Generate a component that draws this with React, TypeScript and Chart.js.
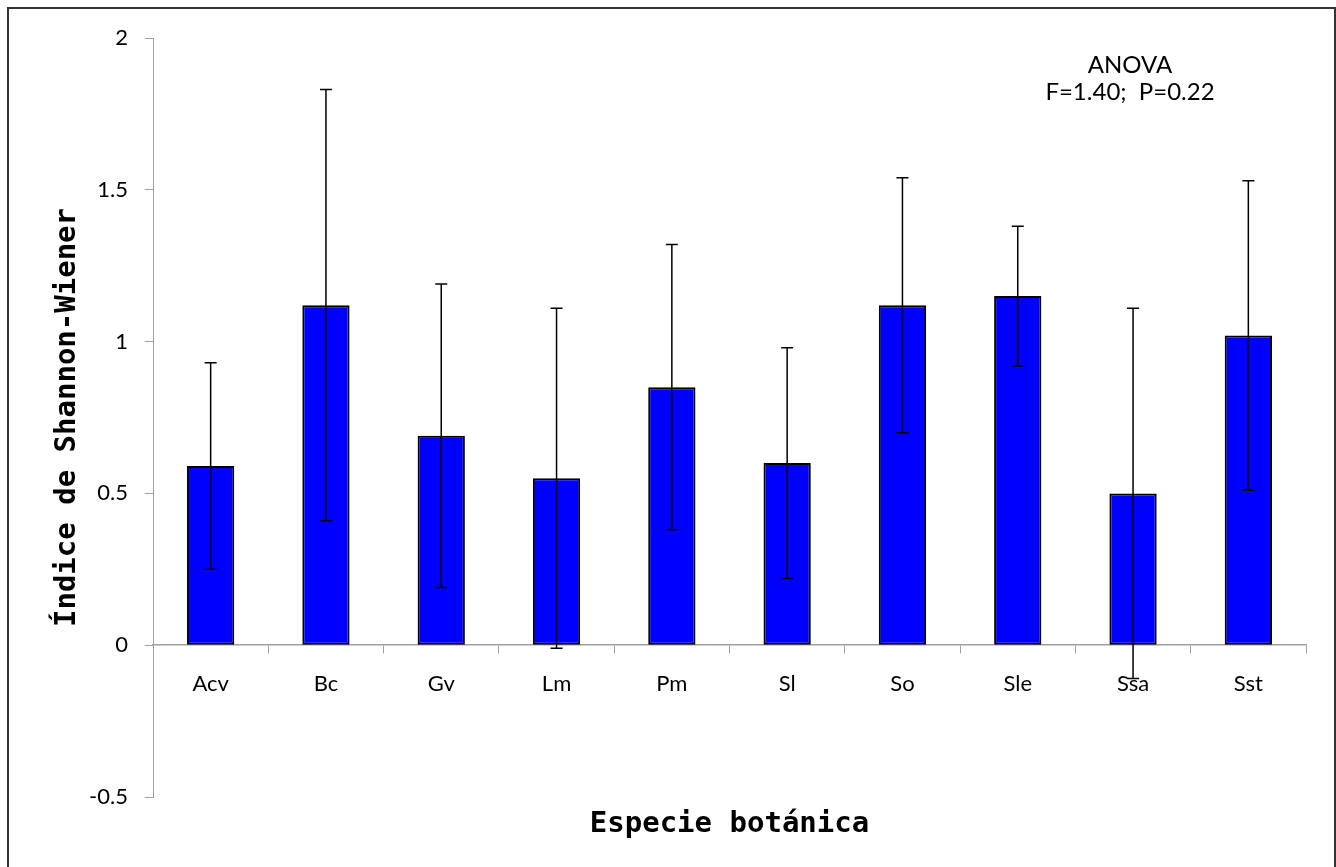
import React, { useEffect, useRef } from "react";
import { Chart, registerables } from "chart.js";

Chart.register(...registerables);

const categories = ["Acv", "Bc", "Gv", "Lm", "Pm", "Sl", "So", "Sle", "Ssa", "Sst"];
const means = [0.59, 1.12, 0.69, 0.55, 0.85, 0.6, 1.12, 1.15, 0.5, 1.02];
const errors = [0.34, 0.71, 0.5, 0.56, 0.47, 0.38, 0.42, 0.23, 0.61, 0.51];
const yTicks = [-0.5, 0, 0.5, 1, 1.5, 2];
const yTitle = "Índice de Shannon-Wiener";
const xTitle = "Especie botánica";
const anovaLines = ["ANOVA", "F=1.40;  P=0.22"];

const AXIS_GRAY = "#a0a0a0";

const decorPlugin = {
  id: "decor",
  beforeDraw(chart: any) {
    const ctx = chart.ctx;
    ctx.save();
    ctx.fillStyle = "#ffffff";
    ctx.fillRect(0, 0, chart.width, chart.height);
    ctx.fillStyle = "#333333";
    ctx.fillRect(7, 7, chart.width - 7, 2);
    ctx.fillRect(7, 7, 2, chart.height);
    ctx.fillRect(chart.width - 2, 7, 2, chart.height);
    ctx.restore();
  },
  afterDraw(chart: any) {
    const ctx = chart.ctx;
    const ys = chart.scales.y;
    const meta = chart.getDatasetMeta(0);
    ctx.save();
    ctx.strokeStyle = "#000000";
    ctx.lineWidth = 1.5;
    meta.data.forEach((el: any, i: number) => {
      const x = el.x;
      const top = ys.getPixelForValue(means[i] + errors[i]);
      const bot = ys.getPixelForValue(means[i] - errors[i]);
      ctx.beginPath();
      ctx.moveTo(x, top);
      ctx.lineTo(x, bot);
      ctx.moveTo(x - 6, top);
      ctx.lineTo(x + 6, top);
      ctx.moveTo(x - 6, bot);
      ctx.lineTo(x + 6, bot);
      ctx.stroke();
    });

    const ca = chart.chartArea;
    ctx.fillStyle = "#000000";
    ctx.font = 'bold 29px "DejaVu Sans Mono"';
    ctx.textAlign = "center";
    ctx.textBaseline = "alphabetic";
    ctx.fillText(xTitle, (ca.left + ca.right) / 2, ca.bottom + 35);

    ctx.save();
    ctx.translate(75, (ca.top + ca.bottom) / 2);
    ctx.rotate(-Math.PI / 2);
    ctx.fillText(yTitle, 0, 0);
    ctx.restore();

    ctx.font = "24px Lato";
    ctx.fillText(anovaLines[0], 1130, 73);
    ctx.fillText(anovaLines[1], 1130, 100);
    ctx.restore();
  },
};

export default function App() {
  const canvasRef = useRef<HTMLCanvasElement | null>(null);

  useEffect(() => {
    const canvas = canvasRef.current;
    if (!canvas) return;
    const chart = new Chart(canvas, {
      type: "bar",
      data: {
        labels: categories,
        datasets: [
          {
            data: means,
            backgroundColor: "#0000ff",
            borderColor: "#000000",
            borderWidth: 2,
            borderSkipped: false,
            categoryPercentage: 1,
            barPercentage: 0.41,
          },
        ],
      },
      options: {
        responsive: false,
        animation: false,
        layout: { padding: { left: 0, top: 38, right: 30, bottom: 70 } },
        plugins: {
          legend: { display: false },
          tooltip: { enabled: false },
          title: { display: false },
        },
        scales: {
          x: {
            position: { y: 0 } as any,
            z: 1,
            offset: true,
            grid: {
              display: true,
              offset: true,
              drawOnChartArea: false,
              drawTicks: true,
              tickLength: 8,
              color: AXIS_GRAY,
              lineWidth: 1,
            },
            border: { display: true, color: AXIS_GRAY, width: 1.5 },
            ticks: {
              color: "#000000",
              font: { family: "Lato", size: 22 },
              padding: 18,
              maxRotation: 0,
              autoSkip: false,
            },
          },
          y: {
            min: -0.5,
            max: 2,
            afterBuildTicks(scale: any) {
              scale.ticks = yTicks.map((v) => ({ value: v }));
            },
            grid: {
              display: true,
              drawOnChartArea: false,
              drawTicks: true,
              tickLength: 8,
              color: AXIS_GRAY,
              lineWidth: 1,
            },
            border: { display: true, color: AXIS_GRAY, width: 1 },
            ticks: {
              color: "#000000",
              font: { family: "Lato", size: 22 },
              padding: 17,
              callback: (v: any) => String(v),
            },
            afterFit(scale: any) {
              scale.width = 153;
            },
          },
        },
      },
      plugins: [decorPlugin],
    });
    return () => chart.destroy();
  }, []);

  return (
    <div style={{ position: "absolute", left: 0, top: 0, width: 1336, height: 867 }}>
      <canvas ref={canvasRef} width={1336} height={867} style={{ display: "block" }} />
    </div>
  );
}
